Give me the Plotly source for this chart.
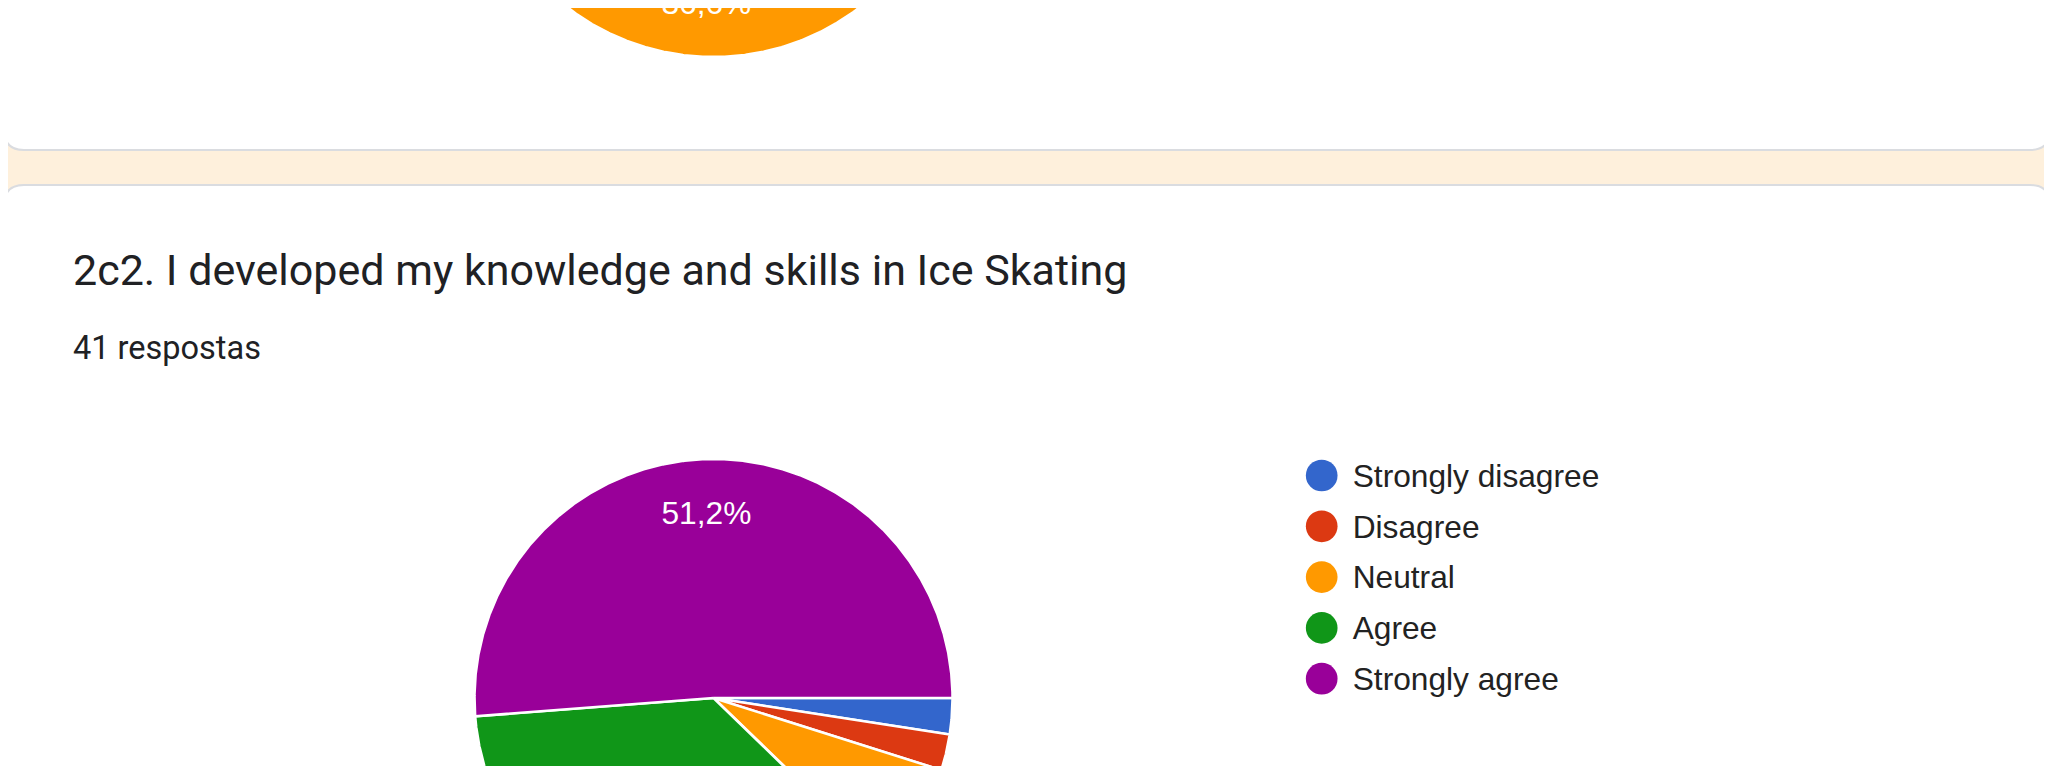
import numpy as np
import plotly.graph_objects as go

# ---------------- data ----------------
categories = ["Strongly disagree", "Disagree", "Neutral", "Agree", "Strongly agree"]
counts_2c2 = [1, 1, 3, 15, 21]          # 41 respostas
counts_prev = [1, 2, 15, 14, 9]          # previous question (only "Neutral" 36,6% is visible)
title_2c2 = "2c2. I developed my knowledge and skills in Ice Skating"
responses_label = "41 respostas"

# ---------------- styles / layout constants ----------------
colors = ["#3366cc", "#dc3912", "#ff9900", "#109618", "#990099"]
VW, VH = 2052, 766        # browser viewport
PAGE_MARGIN = 8           # default <body> margin of the written page
BG = "#fef0dc"
CARD_LINE = "#dadce0"
TEXT_DARK = "#202124"
CHART_FONT = "Liberation Sans, Arial, sans-serif"
CHART_FS = 31.7
TEXT_CENTER_SHIFT = 0.107 * CHART_FS   # plotly 'middle' text sits slightly high

fig = go.Figure()


def rounded_rect(x0, y0, x1, y1, r):
    return (f"M {x0+r},{y0} L {x1-r},{y0} Q {x1},{y0} {x1},{y0+r} "
            f"L {x1},{y1-r} Q {x1},{y1} {x1-r},{y1} L {x0+r},{y1} "
            f"Q {x0},{y1} {x0},{y1-r} L {x0},{y0+r} Q {x0},{y0} {x0+r},{y0} Z")


# cards (page decoration)
for (y0, y1) in [(-60, 150), (185, 900)]:
    fig.add_shape(type="path", path=rounded_rect(4, y0, 2050, y1, 20),
                  xref="x", yref="y", fillcolor="white",
                  line=dict(color=CARD_LINE, width=2), layer="below")


def add_pie(counts, cx, cy, r):
    total = sum(counts)
    start = 0.0  # 3 o'clock, clockwise (y axis points down)
    lx, ly, lt = [], [], []
    for cat, v, col in zip(categories, counts, colors):
        sweep = 360.0 * v / total
        th = np.radians(np.linspace(start, start + sweep, max(3, int(sweep * 4))))
        xs = np.concatenate([[cx], cx + r * np.cos(th), [cx]])
        ys = np.concatenate([[cy], cy + r * np.sin(th), [cy]])
        pct = 100.0 * v / total
        fig.add_trace(go.Scatter(
            x=xs, y=ys, mode="lines", fill="toself", fillcolor=col,
            line=dict(color="white", width=2.5), name=cat,
            hoveron="fills", hoverinfo="name", showlegend=False))
        if pct >= 5:
            mid = np.radians(start + sweep / 2)
            lx.append(cx + 0.775 * r * np.cos(mid))
            ly.append(cy + 0.775 * r * np.sin(mid) + TEXT_CENTER_SHIFT)
            lt.append(f"{pct:.1f}%".replace(".", ","))
        start += sweep
    fig.add_trace(go.Scatter(
        x=lx, y=ly, mode="text", text=lt, textposition="middle center",
        textfont=dict(family=CHART_FONT, size=CHART_FS, color="white"),
        cliponaxis=True, hoverinfo="skip", showlegend=False))


add_pie(counts_prev, 713.5, -183, 240)
add_pie(counts_2c2, 713.5, 698, 239)

# manual legend (large round dots like Google Charts)
idx = np.arange(len(categories))
leg_y = 475.5 + 50.8 * idx
fig.add_trace(go.Scatter(
    x=[1321.7] * len(categories), y=leg_y, mode="markers",
    marker=dict(size=31.7, color=colors, line=dict(width=0)),
    hoverinfo="skip", showlegend=False))
fig.add_trace(go.Scatter(
    x=[1352.7] * len(categories), y=leg_y + TEXT_CENTER_SHIFT, mode="text",
    text=categories, textposition="middle right",
    textfont=dict(family=CHART_FONT, size=CHART_FS, color="#222222"),
    hoverinfo="skip", showlegend=False))

fig.add_annotation(x=71, y=270, xref="x", yref="y", text=title_2c2,
                   showarrow=False, xanchor="left", yanchor="middle",
                   font=dict(family="Roboto", size=43, color=TEXT_DARK))
fig.add_annotation(x=71, y=347.5, xref="x", yref="y", text=responses_label,
                   showarrow=False, xanchor="left", yanchor="middle",
                   font=dict(family="Roboto", size=32.5, color=TEXT_DARK))

# figure sized to fill the viewport exactly; axes in viewport pixels
fig.update_layout(
    width=VW - PAGE_MARGIN, height=VH - PAGE_MARGIN,
    margin=dict(l=0, r=0, t=0, b=0, pad=0),
    paper_bgcolor=BG, plot_bgcolor="rgba(0,0,0,0)",
    xaxis=dict(range=[PAGE_MARGIN, VW], visible=False, fixedrange=True),
    yaxis=dict(range=[VH, PAGE_MARGIN], visible=False, fixedrange=True),
    showlegend=False,
)

fig.write_html("out.html")
